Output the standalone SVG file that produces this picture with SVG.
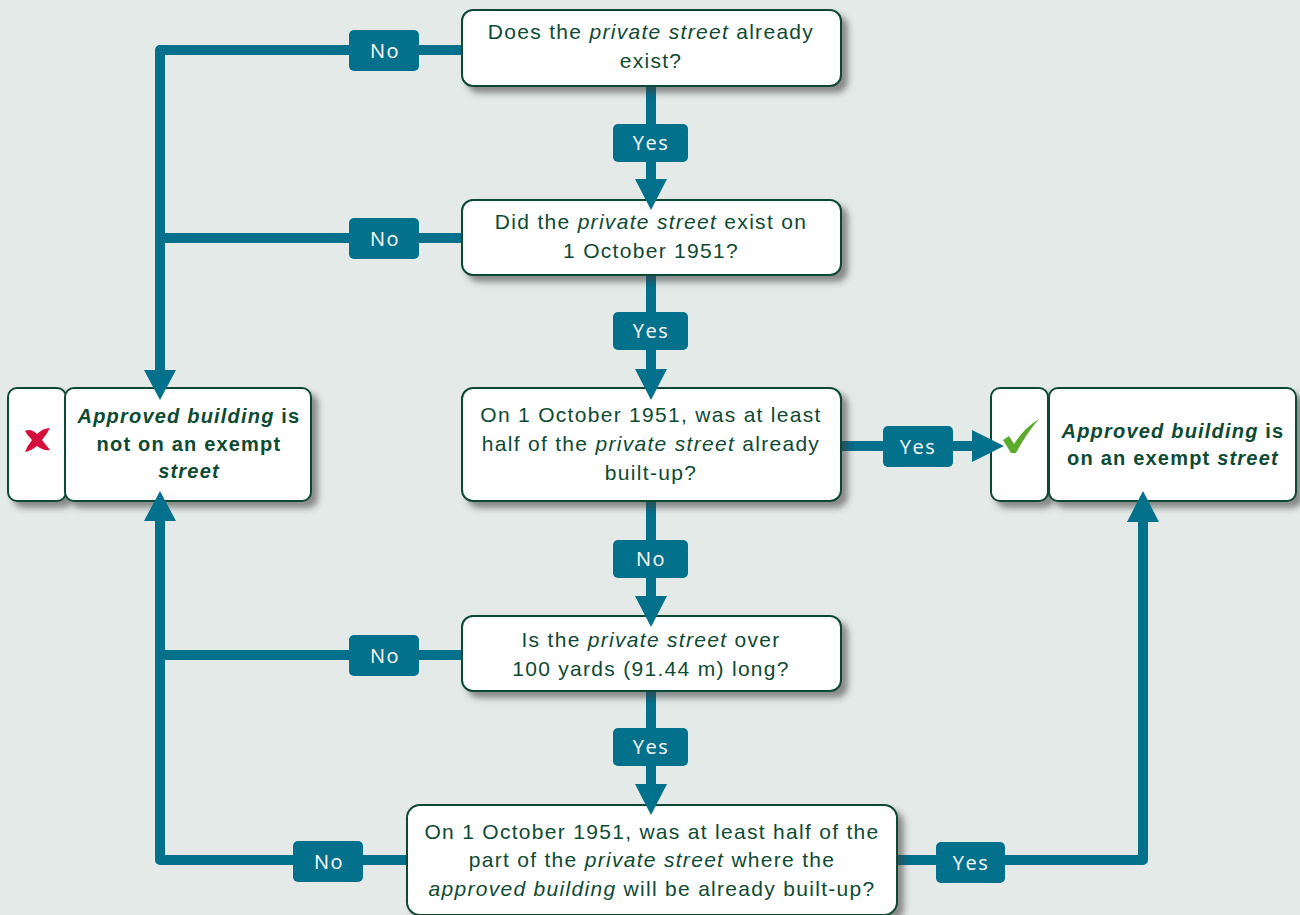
<svg xmlns="http://www.w3.org/2000/svg" width="1300" height="915" viewBox="0 0 1300 915">
<defs>
<filter id="sh" x="-10%" y="-20%" width="130%" height="150%">
<feDropShadow dx="6" dy="6" stdDeviation="3" flood-color="#3a3a3a" flood-opacity="0.55"/>
</filter>
<style>
.box{fill:#fff;stroke:#0d4a33;stroke-width:2}
.q{font-family:"Liberation Sans",Arial,sans-serif;font-size:21px;letter-spacing:1.3px;fill:#0d4a33;text-anchor:middle}
.r{font-family:"Liberation Sans",Arial,sans-serif;font-size:20px;font-weight:bold;letter-spacing:1.2px;fill:#0d4a33;text-anchor:middle}
.i{font-style:italic}
.ln{fill:none;stroke:#03708c;stroke-width:10;stroke-linejoin:round}
.ah{fill:#03708c}
.lb{fill:#03708c}
.lt{font-family:"Open Sans","Liberation Sans",sans-serif;font-size:20px;letter-spacing:1.5px;fill:#fff;text-anchor:middle}
</style>
</defs>
<rect width="1300" height="915" fill="#e4eae8"/>

<g id="connectors">
<path class="ln" d="M651 86V180 M651 275V370 M651 501V598 M651 691V786"/>
<path class="ln" d="M462 50H160V372 M462 238H160 M462 655H160 M407 860H160V520"/>
<path class="ln" d="M841 446H974 M897 860H1143V522"/>
</g>

<g id="n1"><rect class="box" x="462" y="10" width="379" height="76" rx="11" filter="url(#sh)"/>
<text class="q" x="651" y="39">Does the <tspan class="i">private street</tspan> already</text>
<text class="q" x="651" y="68">exist?</text></g>

<g id="n2"><rect class="box" x="462" y="200" width="379" height="75" rx="11" filter="url(#sh)"/>
<text class="q" x="651" y="229">Did the <tspan class="i">private street</tspan> exist on</text>
<text class="q" x="651" y="258">1 October 1951?</text></g>

<g id="n3"><rect class="box" x="462" y="388" width="379" height="113" rx="11" filter="url(#sh)"/>
<text class="q" x="651" y="422">On 1 October 1951, was at least</text>
<text class="q" x="651" y="451">half of the <tspan class="i">private street</tspan> already</text>
<text class="q" x="651" y="480">built-up?</text></g>

<g id="n4"><rect class="box" x="462" y="616" width="379" height="75" rx="11" filter="url(#sh)"/>
<text class="q" x="651" y="647">Is the <tspan class="i">private street</tspan> over</text>
<text class="q" x="651" y="676">100 yards (91.44 m) long?</text></g>

<g id="n5"><rect class="box" x="407" y="805" width="490" height="110" rx="13" filter="url(#sh)"/>
<text class="q" x="652" y="839">On 1 October 1951, was at least half of the</text>
<text class="q" x="652" y="867">part of the <tspan class="i">private street</tspan> where the</text>
<text class="q" x="652" y="896"><tspan class="i">approved building</tspan> will be already built-up?</text></g>

<g id="notexempt">
<rect class="box" x="8" y="388" width="58" height="113" rx="9" filter="url(#sh)"/>
<rect class="box" x="65" y="388" width="246" height="113" rx="9" filter="url(#sh)"/>
<path d="M25 431 Q31 428 37 434 Q43 428 50 428 Q47 434 42 440 Q46 445 50 450 Q43 451 37 446 Q31 451 25 452 Q27 446 32 440 Q27 435 25 431Z" fill="#d40f3c"/>
<text class="r" x="189" y="423"><tspan class="i">Approved building</tspan> is</text>
<text class="r" x="189" y="451">not on an exempt</text>
<text class="r" x="189" y="478"><tspan class="i">street</tspan></text>
</g>

<g id="exempt">
<rect class="box" x="991" y="388" width="57" height="113" rx="9" filter="url(#sh)"/>
<rect class="box" x="1049" y="388" width="247" height="113" rx="9" filter="url(#sh)"/>
<path d="M1003 440 L1009 436 L1014 444 Q1024 428 1039 419 Q1026 434 1016 453 L1011 453 Z" fill="#5aab2b"/>
<text class="r" x="1173" y="438"><tspan class="i">Approved building</tspan> is</text>
<text class="r" x="1173" y="465">on an exempt <tspan class="i">street</tspan></text>
</g>

<g id="arrowheads">
<path class="ah" d="M635 179H667L651 210Z M635 369H667L651 400Z M635 596H667L651 627Z M635 784H667L651 815Z"/>
<path class="ah" d="M144 370H176L160 400Z M144 521H176L160 491Z M1127 522H1159L1143 491Z M972 430V462L1004 446Z"/>
</g>

<g id="labels">
<rect class="lb" x="349" y="30" width="70" height="41" rx="5"/><text class="lt" x="385" y="58">No</text>
<rect class="lb" x="349" y="218" width="70" height="41" rx="5"/><text class="lt" x="385" y="246">No</text>
<rect class="lb" x="349" y="635" width="70" height="41" rx="5"/><text class="lt" x="385" y="663">No</text>
<rect class="lb" x="293" y="841" width="70" height="41" rx="5"/><text class="lt" x="329" y="869">No</text>
<rect class="lb" x="613" y="124" width="75" height="38" rx="5"/><text class="lt" x="651" y="150">Yes</text>
<rect class="lb" x="613" y="312" width="75" height="38" rx="5"/><text class="lt" x="651" y="338">Yes</text>
<rect class="lb" x="613" y="540" width="75" height="38" rx="5"/><text class="lt" x="651" y="566">No</text>
<rect class="lb" x="613" y="728" width="75" height="38" rx="5"/><text class="lt" x="651" y="754">Yes</text>
<rect class="lb" x="883" y="426" width="70" height="41" rx="5"/><text class="lt" x="918" y="454">Yes</text>
<rect class="lb" x="936" y="842" width="69" height="41" rx="5"/><text class="lt" x="971" y="870">Yes</text>
</g>
</svg>
